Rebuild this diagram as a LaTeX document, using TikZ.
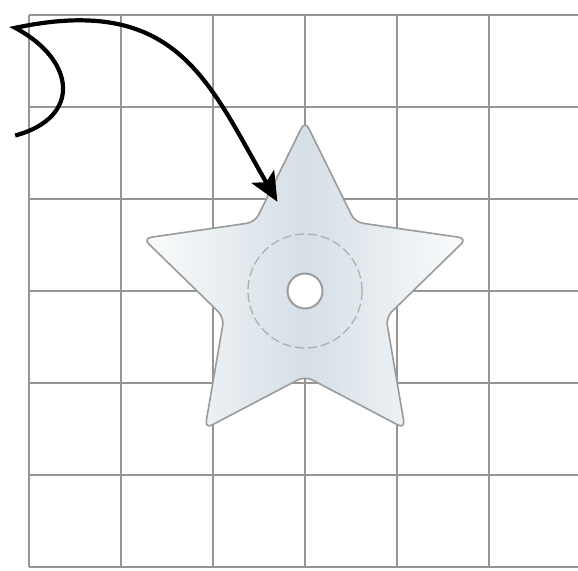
\documentclass[tikz,border=0pt]{standalone}
\usetikzlibrary{shapes.geometric,arrows.meta}
\definecolor{gridgray}{RGB}{150,150,150}
\definecolor{starmid}{RGB}{213,223,230}
\definecolor{staredge}{RGB}{251,252,252}
\definecolor{rimgray}{RGB}{155,155,155}
\begin{document}
\begin{tikzpicture}[
    gridline/.style={draw=gridgray,line width=0.6pt},
    badgestar/.style={star,star points=5,star point ratio=2.0,minimum size=3.7cm,inner sep=0pt,
      rounded corners=2.5pt,draw=rimgray,line width=0.5pt,left color=staredge,right color=staredge,middle color=starmid}
  ]
  \useasboundingbox (-0.315,-6.033) rectangle (5.967,0.163);
  \draw[gridline] (0,-6) grid (6,0);
  \node[badgestar] (badge) at (3,-3) {};
  \node[circle,draw=rimgray!80,dash pattern=on 2.8pt off 1.2pt,line width=0.4pt,minimum size=1.24cm,inner sep=0pt] (ring) at (badge.center) {};
  \node[circle,draw=rimgray,fill=white,line width=0.6pt,minimum size=0.38cm,inner sep=0pt] (hole) at (badge.center) {};
  % arrow
  \coordinate (start) at (-0.15,-1.31);
  \coordinate (cusp) at (-0.15,-0.14);
  \coordinate (tip) at (2.70,-2.03);
  \draw[line width=1.3pt,-{Stealth[length=9pt,width=8pt,inset=2pt]}] (start) .. controls +(15:0.75) and +(-28:0.75) .. (cusp)
    .. controls +(12:1.8) and +(120:1.5) .. (tip);
\end{tikzpicture}
\end{document}
